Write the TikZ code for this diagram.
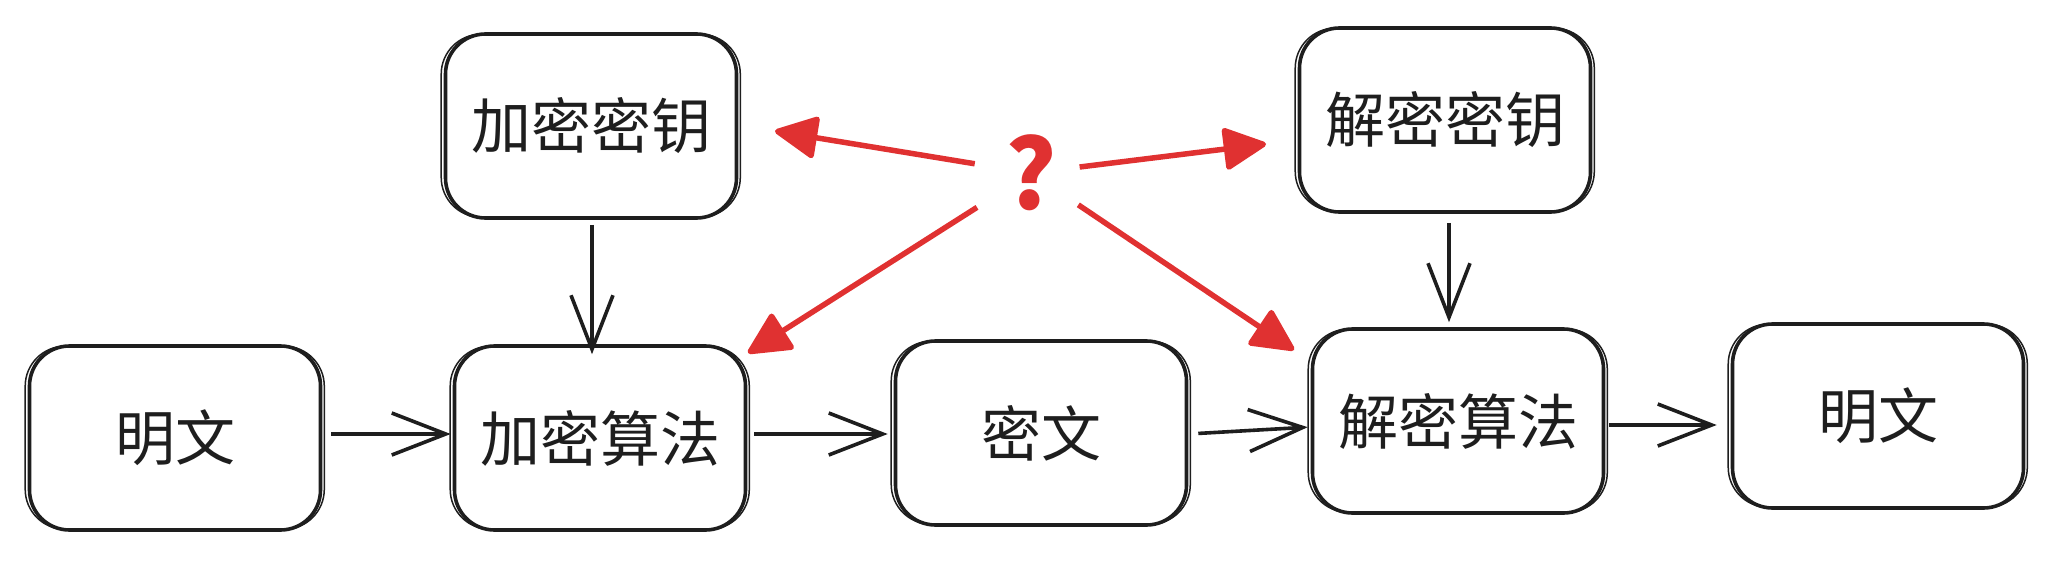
\documentclass[tikz,border=0pt]{standalone}
\usepackage{fontspec}
\newfontfamily\cjk{Noto Sans CJK SC}
\usetikzlibrary{arrows.meta}
\definecolor{ink}{HTML}{1E1E1E}
\definecolor{redq}{HTML}{E03131}
\tikzset{
  box/.style={draw=ink, line width=3.6pt, rounded corners=40pt, minimum width=291pt, minimum height=184pt,
    inner sep=0pt, text=ink, font=\cjk\fontsize{60}{72}\selectfont},
  sk/.style={draw=ink, line width=1.5pt, rounded corners=40pt},
  flow/.style={draw=ink, line width=3.6pt, -{Straight Barb[length=54pt,width=42pt,line width=3.6pt]}},
  qarrow/.style={draw=redq, line width=5.5pt, -{Triangle[length=46pt,width=44pt,round]}},
}
\newcommand{\skbox}[1]{\draw[sk] ([xshift=-2.5pt,yshift=2.5pt]#1.south west) rectangle ([xshift=2pt,yshift=-2pt]#1.north east);}
\begin{document}
\begin{tikzpicture}[x=1pt,y=-1pt]
\useasboundingbox[fill=white] (0,0) rectangle (2050,562);
\node[box] (pl) at (175,438) {明文};
\node[box] (ek) at (591,126) {加密密钥};
\node[box] (ea) at (600,438) {加密算法};
\node[box] (ct) at (1041,433) {密文};
\node[box] (dk) at (1445,120) {解密密钥};
\node[box] (da) at (1458,421) {解密算法};
\node[box] (pr) at (1878,416) {明文};
\foreach \b in {pl,ek,ea,ct,dk,da,pr}{\skbox{\b}}
\node[text=redq, font=\cjk\fontsize{96}{100}\selectfont\bfseries, inner sep=0pt] (q) at (1031,173) {?};
% black flow arrows
\draw[flow, shorten <=9pt, shorten >=2pt] (pl.east |- 0,434) -- (ea.west |- 0,434);
\draw[flow, shorten <=7pt, shorten >=6pt] (ea.east |- 0,434) -- (ct.west |- 0,434);
\draw[flow, shorten <=10pt, shorten >=3pt] (ct.east |- 0,434) -- (da.west |- 0,427);
\draw[flow, shorten <=4pt, shorten >=14pt] (da.east |- 0,425) -- (pr.west |- 0,425);
\draw[flow, shorten <=5pt, shorten >=-10pt] (ek.south -| 592,0) -- (ea.north -| 592,0);
\draw[flow, shorten <=9pt, shorten >=5pt] (dk.south -| 1449,0) -- (da.north -| 1449,0);
% red arrows
\coordinate (t1) at (775,131);
\coordinate (t2) at (1266,144);
\coordinate (t3) at (748,353);
\coordinate (t4) at (1294,350);
\draw[qarrow, shorten <=57pt] (q.center) -- (t1);
\draw[qarrow, shorten <=49pt] (q.center) -- (t2);
\draw[qarrow, shorten <=64pt] (q.center) -- (t3);
\draw[qarrow, shorten <=57pt] (q.center) -- (t4);
\end{tikzpicture}
\end{document}
